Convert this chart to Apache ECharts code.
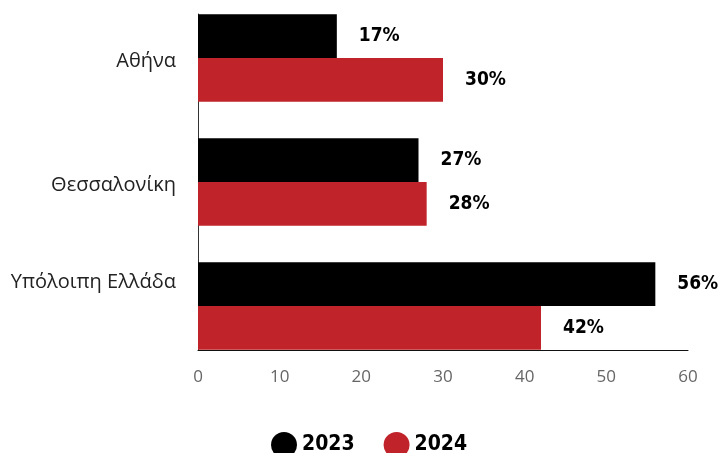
<!DOCTYPE html>
<html>
<head>
<meta charset="utf-8">
<script src="https://cdn.jsdelivr.net/npm/echarts@6/dist/echarts.min.js"></script>
<style>
    html, body { margin: 0; padding: 0; background: #fff; }
    #chart { width: 718px; height: 453px; }
</style>
</head>
<body>
<div id="chart"></div>
<script>
let categories = ['Αθήνα', 'Θεσσαλονίκη', 'Υπόλοιπη Ελλάδα']
let years = ['2023', '2024']
let values2023 = [17, 27, 56]
let values2024 = [30, 28, 42]
let xTicks = [0, 10, 20, 30, 40, 50, 60]

const buildOption = () => {
    let colors = ['#000000', '#c0242a']
    let labelFont = '"Liberation Sans Narrow", "DejaVu Sans Condensed", sans-serif'
    let textFont = '"Open Sans", sans-serif'
    let makeSeries = (name, data, index) => ({
        name: name,
        type: 'bar',
        xAxisIndex: 0,
        yAxisIndex: 0,
        barGap: 0,
        barCategoryGap: '29.4%',
        itemStyle: {
            color: colors[index]
        },
        label: {
            show: true,
            position: 'right',
            distance: 22,
            formatter: p => p.value + '%',
            color: '#000',
            fontFamily: labelFont,
            fontWeight: 'bold',
            fontSize: 19
        },
        data: data
    })
    return {
        animation: false,
        legend: {
            data: years,
            top: 427,
            left: 266,
            icon: 'circle',
            itemWidth: 26,
            itemHeight: 26,
            itemGap: 29,
            textStyle: {
                color: '#000',
                fontFamily: labelFont,
                fontWeight: 'bold',
                fontSize: 21
            }
        },
        grid: [
            { left: 198, right: 30, top: -4, bottom: 85, outerBoundsMode: 'none' },
            { left: 198, right: 30, top: 14, bottom: 103, outerBoundsMode: 'none' }
        ],
        xAxis: [
            {
                gridIndex: 0,
                type: 'value',
                min: xTicks[0],
                max: xTicks[xTicks.length - 1],
                show: false
            },
            {
                gridIndex: 1,
                type: 'value',
                min: xTicks[0],
                max: xTicks[xTicks.length - 1],
                interval: 10,
                axisLine: {
                    show: true,
                    lineStyle: { color: '#111', width: 1 }
                },
                axisTick: { show: false },
                splitLine: { show: false },
                axisLabel: {
                    margin: 19,
                    color: '#666',
                    fontFamily: textFont,
                    fontSize: 17
                }
            }
        ],
        yAxis: [
            {
                gridIndex: 0,
                type: 'category',
                inverse: true,
                data: categories,
                axisLine: { show: false },
                axisTick: { show: false },
                axisLabel: {
                    margin: 22,
                    color: '#222',
                    fontFamily: textFont,
                    fontSize: 20,
                    formatter: (v, i) => i === 2 ? '{up|' + v + '}' : '{a|' + v + '}',
                    rich: {
                        a: {
                            color: '#222',
                            fontFamily: textFont,
                            fontSize: 20,
                            padding: [7, 0, 0, 0]
                        },
                        up: {
                            color: '#222',
                            fontFamily: textFont,
                            fontSize: 20,
                            padding: [0, 0, 48, 0]
                        }
                    }
                }
            },
            {
                gridIndex: 1,
                type: 'value',
                axisLine: {
                    show: true,
                    lineStyle: { color: '#333', width: 1 }
                },
                axisTick: { show: false },
                axisLabel: { show: false },
                splitLine: { show: false }
            }
        ],
        series: [
            makeSeries(years[0], values2023, 0),
            makeSeries(years[1], values2024, 1)
        ]
    }
}

let EC = echarts.init(document.getElementById('chart'))
EC.setOption(buildOption())
</script>
</body>
</html>
